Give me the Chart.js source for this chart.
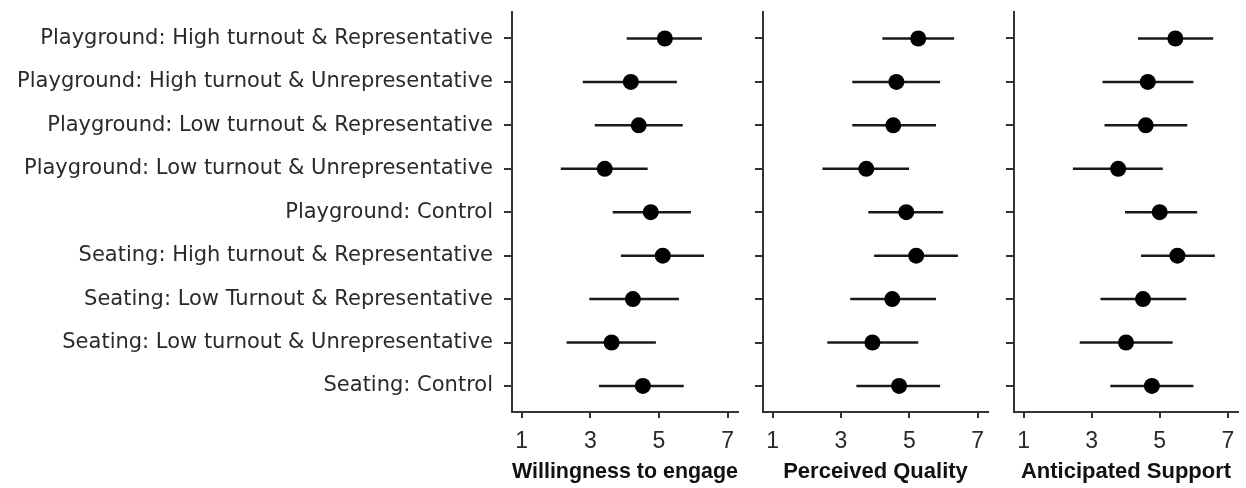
<!DOCTYPE html>
<html>
<head>
<meta charset="utf-8">
<script src="https://cdn.jsdelivr.net/npm/chart.js@4"></script>
<style>
body { margin: 0; background: #fff; }
canvas { position: absolute; top: 0; }
</style>
</head>
<body>
<canvas id="c1" width="748" height="488" style="left:0px"></canvas>
<canvas id="c2" width="250" height="488" style="left:748px"></canvas>
<canvas id="c3" width="248" height="488" style="left:998px"></canvas>
<script>
var categories = [
    'Playground: High turnout & Representative',
    'Playground: High turnout & Unrepresentative',
    'Playground: Low turnout & Representative',
    'Playground: Low turnout & Unrepresentative',
    'Playground: Control',
    'Seating: High turnout & Representative',
    'Seating: Low Turnout & Representative',
    'Seating: Low turnout & Unrepresentative',
    'Seating: Control'
];

var xTicks = [1, 3, 5, 7];

// willingness to engage
var willMean = [5.17, 4.18, 4.41, 3.42, 4.76, 5.11, 4.24, 3.62, 4.53];
var willLo   = [4.06, 2.78, 3.13, 2.14, 3.65, 3.89, 2.97, 2.31, 3.25];
var willHi   = [6.25, 5.52, 5.69, 4.67, 5.93, 6.31, 5.58, 4.91, 5.72];

// perceived quality
var qualMean = [5.26, 4.62, 4.53, 3.74, 4.91, 5.20, 4.50, 3.92, 4.70];
var qualLo   = [4.21, 3.33, 3.33, 2.46, 3.80, 3.97, 3.27, 2.60, 3.45];
var qualHi   = [6.31, 5.90, 5.78, 4.99, 5.99, 6.42, 5.78, 5.26, 5.90];

// anticipated support
var suppMean = [5.46, 4.65, 4.59, 3.78, 5.00, 5.52, 4.51, 4.01, 4.77];
var suppLo   = [4.36, 3.32, 3.38, 2.45, 3.98, 4.45, 3.26, 2.65, 3.55];
var suppHi   = [6.57, 5.99, 5.81, 5.09, 6.10, 6.62, 5.78, 5.38, 5.99];

function showPanel(id, title, mean, lo, hi, yWidth, rightPad, showLabels)
{
    var datasets = [];

    // points first so they sit on top of the bars
    datasets.push({
        data: mean.map(function (v, i) { return {x: v, y: i + 1}; }),
        pointRadius: 8,
        pointHoverRadius: 8,
        backgroundColor: '#000',
        borderWidth: 0
    });

    for (var i = 0; i < mean.length; i++) {
        datasets.push({
            data: [{x: lo[i], y: i + 1}, {x: hi[i], y: i + 1}],
            showLine: true,
            borderColor: '#1a1a1a',
            borderWidth: 2.5,
            pointRadius: 0,
            pointHoverRadius: 0
        });
    }

    new Chart(document.getElementById(id), {
        type: 'scatter',
        data: {datasets: datasets},
        options: {
            responsive: false,
            animation: false,
            events: [],
            layout: {padding: {left: 0, right: rightPad, top: 12, bottom: 0}},
            plugins: {legend: {display: false}, tooltip: {enabled: false}},
            scales: {
                x: {
                    type: 'linear',
                    min: 0.72,
                    max: 7.3,
                    afterBuildTicks: function (s) { s.ticks = xTicks.map(function (v) { return {value: v}; }); },
                    afterFit: function (s) {
                        s.height = 76;
                        s.paddingLeft = 0;
                        s.paddingRight = 0;
                    },
                    ticks: {
                        font: {family: 'Liberation Sans', size: 23},
                        color: '#2a2a2a',
                        padding: 10,
                        maxRotation: 0,
                        autoSkip: false
                    },
                    grid: {drawOnChartArea: false, drawTicks: true, tickLength: 6, color: '#333', lineWidth: 2},
                    border: {display: true, color: '#333', width: 2},
                    title: {
                        display: true,
                        text: title,
                        font: {family: 'Liberation Sans', size: 22, weight: 'bold'},
                        color: '#111',
                        padding: {top: 0, bottom: 3}
                    }
                },
                y: {
                    type: 'linear',
                    reverse: true,
                    min: 0.39,
                    max: 9.6,
                    afterBuildTicks: function (s) { s.ticks = categories.map(function (c, i) { return {value: i + 1}; }); },
                    afterFit: function (s) {
                        s.width = yWidth;
                        s.paddingTop = 0;
                        s.paddingBottom = 0;
                    },
                    ticks: {
                        display: showLabels,
                        callback: function (v, idx) { return categories[idx]; },
                        font: {family: 'DejaVu Sans', size: 21},
                        color: '#2a2a2a',
                        padding: 11,
                        autoSkip: false
                    },
                    grid: {drawOnChartArea: false, drawTicks: true, tickLength: 8, color: '#333', lineWidth: 2},
                    border: {display: true, color: '#333', width: 2}
                }
            }
        }
    });
}

showPanel('c1', 'Willingness to engage', willMean, willLo, willHi, 512, 10, true);
showPanel('c2', 'Perceived Quality', qualMean, qualLo, qualHi, 15, 10, false);
showPanel('c3', 'Anticipated Support', suppMean, suppLo, suppHi, 16, 6, false);
</script>
</body>
</html>
